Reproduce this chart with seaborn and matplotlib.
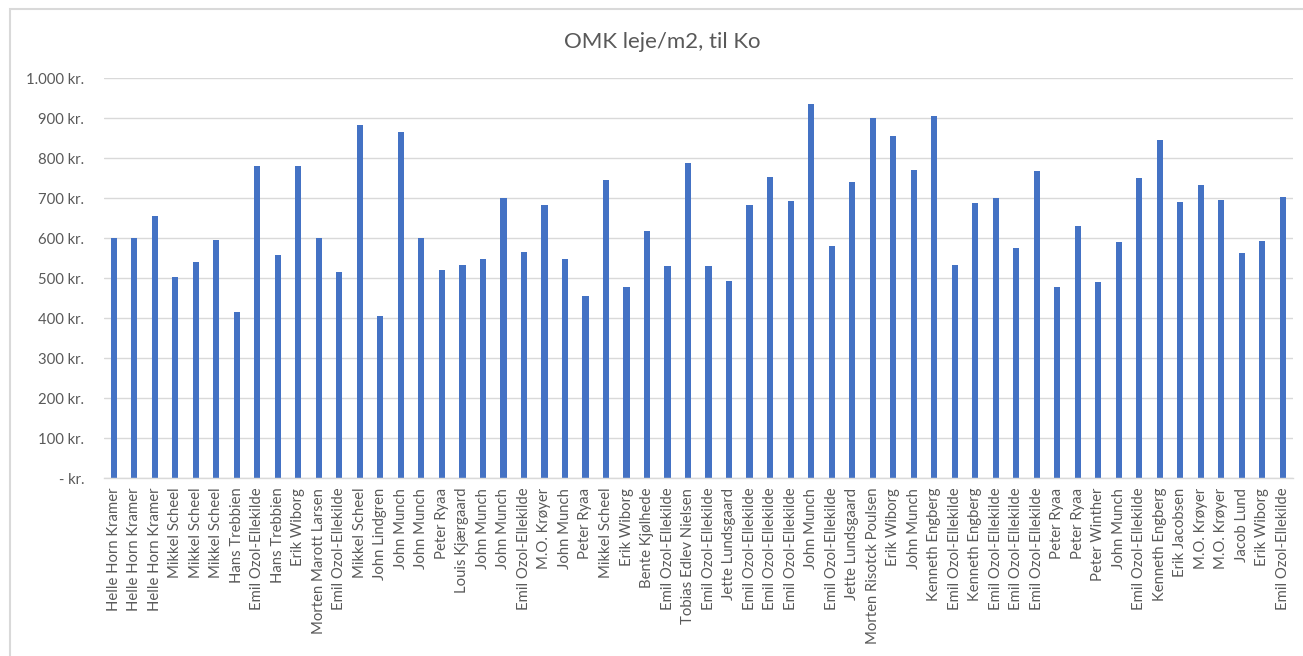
import matplotlib
matplotlib.use("Agg")
import matplotlib.pyplot as plt
from matplotlib.patches import Rectangle
from matplotlib.ticker import FuncFormatter, MultipleLocator
import seaborn as sns
import pandas as pd

# Rent cost per m2, one bar per lease
names = [
    "Helle Horn Kramer", "Helle Horn Kramer", "Helle Horn Kramer", "Mikkel Scheel",
    "Mikkel Scheel", "Mikkel Scheel", "Hans Trebbien", "Emil Ozol-Ellekilde",
    "Hans Trebbien", "Erik Wiborg", "Morten Marott Larsen", "Emil Ozol-Ellekilde",
    "Mikkel Scheel", "John Lindgren", "John Munch", "John Munch",
    "Peter Ryaa", "Louis Kjærgaard", "John Munch", "John Munch",
    "Emil Ozol-Ellekilde", "M.O. Krøyer", "John Munch", "Peter Ryaa",
    "Mikkel Scheel", "Erik Wiborg", "Bente Kjølhede", "Emil Ozol-Ellekilde",
    "Tobias Edlev Nielsen", "Emil Ozol-Ellekilde", "Jette Lundsgaard", "Emil Ozol-Ellekilde",
    "Emil Ozol-Ellekilde", "Emil Ozol-Ellekilde", "John Munch", "Emil Ozol-Ellekilde",
    "Jette Lundsgaard", "Morten Risotck Poulsen", "Erik Wiborg", "John Munch",
    "Kenneth Engberg", "Emil Ozol-Ellekilde", "Kenneth Engberg", "Emil Ozol-Ellekilde",
    "Emil Ozol-Ellekilde", "Emil Ozol-Ellekilde", "Peter Ryaa", "Peter Ryaa",
    "Peter Winther", "John Munch", "Emil Ozol-Ellekilde", "Kenneth Engberg",
    "Erik Jacobsen", "M.O. Krøyer", "M.O. Krøyer", "Jacob Lund",
    "Erik Wiborg", "Emil Ozol-Ellekilde",
]
rent_per_m2 = [
    600, 600, 655, 502, 540, 595, 415, 779,
    557, 779, 600, 516, 882, 404, 866, 600,
    520, 533, 548, 700, 565, 682, 548, 456,
    746, 477, 617, 531, 787, 531, 492, 682,
    752, 692, 935, 580, 739, 901, 855, 771,
    905, 533, 688, 700, 575, 768, 477, 631,
    489, 591, 750, 846, 691, 732, 695, 562,
    593, 702,
]
title = "OMK leje/m2, til Ko"

df = pd.DataFrame({"pos": list(range(len(names))), "value": rent_per_m2})

sns.set_theme(style="white")
plt.rcParams["font.family"] = ["Lato", "DejaVu Sans"]

text_color = "#595959"
grid_color = "#D9D9D9"
bar_color = "#4472C4"

fig = plt.figure(figsize=(13.03, 6.56), dpi=100)
fig.patch.set_facecolor("white")

# chart frame
fig.add_artist(Rectangle((10 / 1303, -0.05), 1.2, 1 - 9 / 656 + 0.05,
                         transform=fig.transFigure, fill=False,
                         edgecolor=grid_color, linewidth=1.5))

ax = fig.add_axes([103.5 / 1303, 1 - 478 / 656, 1189.6 / 1303, 400 / 656])
sns.barplot(data=df, x="pos", y="value", color=bar_color, width=0.3,
            saturation=1, linewidth=0, ax=ax)

ax.set_xlim(-0.5, len(names) - 0.5)
ax.set_ylim(0, 1000)
ax.yaxis.set_major_locator(MultipleLocator(100))


def kr(v, _):
    if v == 0:
        return "- kr."
    return f"{int(v):,} kr.".replace(",", ".")


ax.yaxis.set_major_formatter(FuncFormatter(kr))
ax.set_xticks(range(len(names)))
ax.set_xticklabels(names, rotation=90)
ax.tick_params(axis="x", length=0, pad=7, labelsize=10.7, labelcolor=text_color)
ax.tick_params(axis="y", length=0, pad=14, labelsize=10.7, labelcolor=text_color)
ax.set_xlabel("")
ax.set_ylabel("")

ax.grid(axis="y", color=grid_color, linewidth=1)
ax.set_axisbelow(True)
for side in ["top", "right", "left"]:
    ax.spines[side].set_visible(False)
ax.spines["bottom"].set_color(grid_color)
ax.spines["bottom"].set_linewidth(1)

fig.text(662 / 1303, 1 - 42 / 656, title, ha="center", va="center",
         fontsize=16, color=text_color)

fig.savefig("out.png", dpi=100, facecolor="white")
